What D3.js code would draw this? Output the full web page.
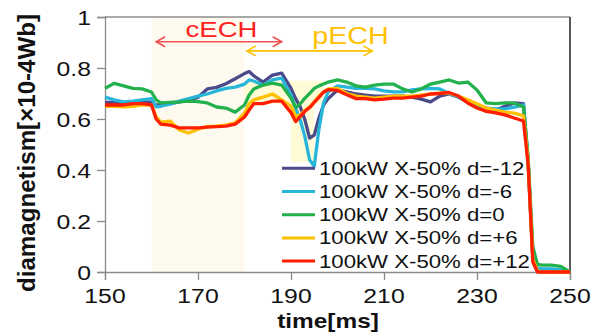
<!DOCTYPE html>
<html>
<head>
<meta charset="utf-8">
<script src="https://cdn.jsdelivr.net/npm/d3@7"></script>
<style>
body { margin: 0; background: #fff; }
svg { display: block; font-family: "Liberation Sans", Arial, sans-serif; }
</style>
</head>
<body>
<div id="chart"></div>
<script>
// time axis [ms]
var times = [150,152,154,156,158,160,161,162,164,166,168,170,172,174,176,178,180,181,182,184,186,188,
             190,191,192,193,194,195,196,197,198,200,202,204,206,208,210,212,214,216,218,220,222,224,
             226,228,230,232,234,236,238,240,241,242,243,244,246,248,250];

// diamagnetism [x10-4 Wb], one list per d
var dMinus12 = [.665,.665,.663,.665,.667,.665,.655,.655,.66,.667,.675,.685,.718,.724,.738,.758,.778,.786,.769,.745,.772,.78,
                .72,.68,.647,.596,.525,.537,.604,.655,.68,.714,.706,.698,.694,.69,.69,.69,.69,.686,.678,.667,.69,.698,
                .686,.667,.65,.643,.635,.65,.663,.66,.43,.06,.01,.008,.008,.005,0];
var dMinus6  = [.686,.675,.667,.67,.675,.68,.648,.65,.658,.67,.68,.69,.698,.71,.72,.725,.737,.753,.749,.733,.753,.76,
                .694,.643,.596,.53,.44,.415,.56,.663,.706,.73,.725,.72,.72,.718,.71,.706,.706,.714,.718,.72,.718,.70,
                .686,.67,.655,.643,.64,.64,.647,.655,.43,.06,.015,.012,.012,.008,0];
var dZero    = [.72,.74,.73,.72,.718,.706,.675,.663,.665,.667,.67,.668,.663,.647,.643,.627,.655,.694,.718,.733,.741,.733,
                .682,.645,.66,.682,.70,.72,.73,.737,.745,.753,.745,.73,.725,.733,.737,.737,.718,.706,.718,.737,.745,.753,
                .741,.745,.714,.663,.66,.663,.663,.647,.45,.1,.03,.027,.027,.022,0];
var dPlus6   = [.65,.65,.648,.65,.655,.655,.61,.588,.592,.557,.545,.56,.57,.572,.576,.585,.623,.66,.675,.686,.698,.675,
                .65,.61,.615,.635,.647,.667,.69,.706,.718,.72,.70,.69,.686,.682,.686,.69,.69,.69,.694,.698,.702,.702,
                .69,.675,.66,.643,.635,.627,.623,.612,.43,.05,.005,0,0,0,0];
var dPlus12  = [.655,.655,.655,.66,.66,.655,.60,.58,.576,.565,.565,.565,.568,.57,.572,.58,.608,.635,.66,.66,.67,.67,
                .625,.59,.61,.63,.645,.665,.685,.705,.715,.712,.695,.68,.68,.675,.678,.682,.682,.686,.69,.698,.70,.704,
                .69,.663,.643,.63,.624,.616,.604,.592,.42,.04,0,0,0,0,0];

var seriesNames = ["100kW X-50% d=-12","100kW X-50% d=-6","100kW X-50% d=0","100kW X-50% d=+6","100kW X-50% d=+12"];
var seriesValues = [dMinus12, dMinus6, dZero, dPlus6, dPlus12];
var colors = ["#4b4a8a","#27b5da","#22b14c","#ffc000","#ff1e00"];

var xTicks = [150,170,190,210,230,250];
var yTicks = [0,0.2,0.4,0.6,0.8,1];

// annotated windows
var cechWindow = [160, 180];
var pechShade = [[180,.75],[197,.75],[197,.66],[195,.66],[195,.43],[190,.43],[190,.66],[180,.66]];
var cechArrow = [161, 188, 0.903];
var pechArrow = [180.5, 207.5, 0.867];

function init() {
    var w = 603, h = 336;
    var left = 105, right = 570, top = 17, bottom = 272;
    var sx = 1.18;

    var svg = d3.select("#chart").append("svg")
        .attr("width", w).attr("height", h);

    var x = d3.scaleLinear().domain([150, 250]).range([left, right]);
    var y = d3.scaleLinear().domain([0, 1]).range([bottom, top]);

    // shaded windows
    svg.append("rect")
        .attr("x", x(cechWindow[0])).attr("y", y(1))
        .attr("width", x(cechWindow[1]) - x(cechWindow[0]))
        .attr("height", y(0) - y(1))
        .attr("fill", "#fffaf0");
    svg.append("path")
        .attr("d", d3.line().x(function(d) { return x(d[0]); }).y(function(d) { return y(d[1]); })(pechShade) + "Z")
        .attr("fill", "#fffbd6");

    // axes
    var yAxis = svg.append("g").attr("transform", "translate(" + left + ",0)")
        .call(d3.axisLeft(y).tickValues(yTicks).tickSize(8).tickFormat(""));
    var xAxis = svg.append("g").attr("transform", "translate(0," + bottom + ")")
        .call(d3.axisBottom(x).tickValues(xTicks).tickSize(8).tickFormat(""));
    svg.selectAll(".domain, .tick line").attr("stroke", "#8a8a8a").attr("stroke-width", 1.3);

    // frame top / right
    svg.append("line").attr("x1", left).attr("x2", right).attr("y1", top).attr("y2", top)
        .attr("stroke", "#555").attr("stroke-width", 1.2);
    svg.append("line").attr("x1", right).attr("x2", right).attr("y1", top).attr("y2", bottom)
        .attr("stroke", "#222").attr("stroke-width", 1.5);

    // tick labels (stretched horizontally like the source image)
    yTicks.forEach(function(v) {
        svg.append("text")
            .attr("transform", "translate(" + (left - 14) + "," + (y(v) + 7.5) + ") scale(" + sx + ",1)")
            .attr("text-anchor", "end").attr("font-size", 21).attr("fill", "#111")
            .text(d3.format("~g")(v));
    });
    xTicks.forEach(function(v) {
        svg.append("text")
            .attr("transform", "translate(" + x(v) + "," + 303 + ") scale(" + sx + ",1)")
            .attr("text-anchor", "middle").attr("font-size", 21).attr("fill", "#111")
            .text(v);
    });

    // axis titles
    svg.append("text")
        .attr("transform", "translate(" + 328 + "," + 328 + ") scale(1.22,1)")
        .attr("text-anchor", "middle").attr("font-size", 20).attr("font-weight", "bold")
        .attr("fill", "#111").text("time[ms]");
    svg.append("text")
        .attr("transform", "translate(35,153) scale(1.15,1) rotate(-90)")
        .attr("text-anchor", "middle").attr("font-size", 21).attr("font-weight", "bold")
        .attr("textLength", 278).attr("lengthAdjust", "spacingAndGlyphs")
        .attr("fill", "#111").text("diamagnetism[×10-4Wb]");

    // series lines
    var line = d3.line()
        .x(function(d, i) { return x(times[i]); })
        .y(function(d) { return y(d); });

    svg.selectAll(".series")
        .data(seriesValues)
        .enter()
        .append("path")
        .attr("class", "series")
        .attr("d", function(d) { return line(d); })
        .attr("fill", "none")
        .attr("stroke", function(d, i) { return colors[i]; })
        .attr("stroke-width", 3.3)
        .attr("stroke-linejoin", "round");

    // double arrows
    function arrow(a, color) {
        var x1 = x(a[0]), x2 = x(a[1]), yy = y(a[2]);
        var g = svg.append("g").attr("stroke", color).attr("stroke-width", 1.6).attr("fill", "none");
        g.append("line").attr("x1", x1).attr("x2", x2).attr("y1", yy).attr("y2", yy);
        g.append("path").attr("d", "M" + (x1 + 9) + "," + (yy - 5) + "L" + x1 + "," + yy + "L" + (x1 + 9) + "," + (yy + 5));
        g.append("path").attr("d", "M" + (x2 - 9) + "," + (yy - 5) + "L" + x2 + "," + yy + "L" + (x2 - 9) + "," + (yy + 5));
    }
    arrow(cechArrow, "#f25050");
    arrow(pechArrow, "#ffc000");

    svg.append("text")
        .attr("transform", "translate(" + 221.5 + "," + 37 + ") scale(1.25,1)")
        .attr("text-anchor", "middle").attr("font-size", 22).attr("fill", "#ff2020")
        .text("cECH");
    svg.append("text")
        .attr("transform", "translate(" + 350.5 + "," + 43.5 + ") scale(1.25,1)")
        .attr("text-anchor", "middle").attr("font-size", 23).attr("fill", "#ffc000")
        .text("pECH");

    // legend
    var legend = svg.append("g");
    seriesNames.forEach(function(name, i) {
        var ly = 168.3 + i * 23.2;
        legend.append("line")
            .attr("x1", 282).attr("x2", 315).attr("y1", ly).attr("y2", ly)
            .attr("stroke", colors[i]).attr("stroke-width", 3);
        legend.append("text")
            .attr("transform", "translate(319," + (ly + 6.5) + ") scale(1.2,1)")
            .attr("font-size", 18.5).attr("fill", "#111")
            .text(name);
    });
}

window.onload = init;
</script>
</body>
</html>
